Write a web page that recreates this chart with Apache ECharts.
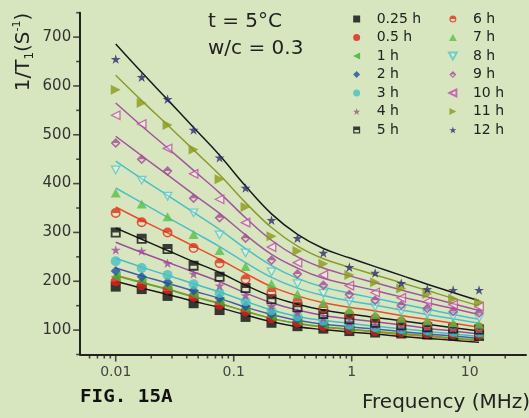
<!DOCTYPE html>
<html><head><meta charset="utf-8">
<script src="https://cdn.jsdelivr.net/npm/echarts@6/dist/echarts.min.js"></script>
<style>html,body{margin:0;padding:0;background:#d8e6bf}#c{width:529px;height:418px}</style>
</head><body><div id="c"></div>
<script>
// ---- data ----
const freqs = [0.01, 0.0166, 0.0275, 0.0457, 0.0759, 0.126, 0.209, 0.347, 0.575, 0.955, 1.58, 2.63, 4.37, 7.24, 12.0];
const seriesNames = ['0.25 h', '0.5 h', '1 h', '2 h', '3 h', '4 h', '5 h', '6 h', '7 h', '8 h', '9 h', '10 h', '11 h', '12 h'];

const pts_025h = [189, 184, 170, 155, 141, 127, 115, 108, 103, 98, 95, 93, 91, 89, 88];
const pts_05h  = [200, 192, 183, 168, 152, 138, 124, 115, 108, 102, 98, 95, 93, 91, 90];
const pts_1h   = [209, 201, 189, 173, 158, 143, 128, 119, 111, 105, 101, 97, 95, 93, 92];
const pts_2h   = [221, 209, 198, 181, 165, 149, 133, 122, 114, 107, 103, 99, 96, 94, 93];
const pts_3h   = [241, 227, 213, 194, 176, 159, 140, 128, 119, 111, 106, 102, 99, 96, 95];
const pts_4h   = [264, 262, 237, 215, 191, 171, 149, 136, 125, 116, 110, 105, 102, 100, 98];
const pts_5h   = [300, 287, 266, 232, 209, 186, 163, 147, 133, 122, 115, 110, 106, 103, 101];
const pts_6h   = [340, 321, 300, 268, 237, 204, 178, 158, 145, 132, 124, 117, 111, 107, 105];
const pts_7h   = [381, 358, 332, 296, 263, 230, 195, 174, 156, 142, 132, 124, 119, 115, 112];
const pts_8h   = [428, 407, 374, 340, 295, 258, 219, 195, 175, 158, 148, 139, 133, 128, 125];
const pts_9h   = [483, 450, 426, 370, 330, 288, 243, 215, 192, 173, 161, 151, 144, 138, 135];
const pts_10h  = [540, 522, 472, 420, 368, 320, 270, 238, 213, 191, 177, 166, 158, 152, 148];
const pts_11h  = [592, 565, 520, 470, 409, 352, 292, 262, 236, 213, 198, 185, 174, 164, 157];
const pts_12h  = [655, 618, 573, 510, 453, 391, 325, 288, 258, 229, 217, 196, 184, 182, 182];

const fit_025h = [200, 186, 173, 159, 146, 131, 117, 107, 101, 96, 92, 87, 83, 79, 75];
const fit_05h  = [213, 198, 184, 169, 155, 138, 124, 113, 106, 101, 96, 91, 87, 82, 78];
const fit_1h   = [211, 197, 183, 168, 154, 139, 124, 114, 107, 102, 97, 93, 89, 84, 80];
const fit_2h   = [227, 211, 196, 180, 165, 147, 132, 120, 112, 107, 102, 97, 92, 88, 83];
const fit_3h   = [247, 229, 212, 195, 178, 159, 141, 128, 120, 114, 108, 103, 97, 92, 87];
const fit_4h   = [280, 259, 239, 219, 199, 176, 156, 141, 130, 123, 117, 111, 104, 98, 92];
const fit_5h   = [309, 286, 263, 240, 218, 192, 169, 153, 141, 133, 126, 119, 112, 105, 98];
const fit_6h   = [352, 325, 299, 272, 245, 216, 189, 170, 156, 147, 139, 130, 122, 114, 106];
const fit_7h   = [391, 361, 331, 301, 271, 238, 208, 186, 171, 160, 151, 141, 132, 123, 114];
const fit_8h   = [446, 410, 376, 341, 306, 267, 232, 206, 188, 176, 165, 154, 143, 132, 122];
const fit_9h   = [497, 457, 418, 378, 339, 295, 255, 227, 206, 193, 181, 168, 156, 144, 132];
const fit_10h  = [565, 518, 473, 427, 381, 330, 284, 250, 227, 211, 197, 182, 168, 154, 140];
const fit_11h  = [622, 570, 520, 469, 418, 361, 310, 272, 246, 229, 213, 197, 181, 165, 150];
const fit_12h  = [686, 628, 572, 515, 458, 395, 338, 296, 267, 248, 230, 212, 194, 177, 160];

const xTickLabels = [0.01, 0.1, 1, 10];
const xMinorTicks = [0.006, 0.007, 0.008, 0.009, 0.02, 0.03, 0.04, 0.05, 0.06, 0.07, 0.08, 0.09,
  0.2, 0.3, 0.4, 0.5, 0.6, 0.7, 0.8, 0.9, 2, 3, 4, 5, 6, 7, 8, 9, 20];
const yTickLabels = [100, 200, 300, 400, 500, 600, 700];
const yMinorTicks = [50, 150, 250, 350, 450, 550, 650, 750];

const allPts = [pts_025h, pts_05h, pts_1h, pts_2h, pts_3h, pts_4h, pts_5h, pts_6h, pts_7h, pts_8h, pts_9h, pts_10h, pts_11h, pts_12h];
const allFits = [fit_025h, fit_05h, fit_1h, fit_2h, fit_3h, fit_4h, fit_5h, fit_6h, fit_7h, fit_8h, fit_9h, fit_10h, fit_11h, fit_12h];

// ---- styles ----
const SYM = {
  square: 'path://M0,0L10,0L10,10L0,10Z',
  circle: 'circle',
  diamond: 'path://M5,0L10,5L5,10L0,5Z',
  up: 'path://M5,0L10,9L0,9Z',
  left: 'path://M0,5L10,0L10,10Z',
  right: 'path://M10,5L0,0L0,10Z',
  down: 'path://M0,0L10,0L5,9Z',
  star: 'path://M50,2L61,36L97,36L68,57L79,92L50,71L21,92L32,57L3,36L39,36Z',
  halfSquare: 'path://M0,0L10,0L10,10L0,10Z M1.8,5L1.8,8.2L8.2,8.2L8.2,5Z',
  halfCircle: 'path://M5,0A5,5,0,1,1,5,10A5,5,0,1,1,5,0Z M1.6,5A3.4,3.4,0,0,0,8.4,5Z',
  halfDiamond: 'path://M5,0L10,5L5,10L0,5Z M2.2,5L5,7.8L7.8,5Z'
};
const symbols = ['square','circle','left','diamond','circle','star','halfSquare','halfCircle','up','down','halfDiamond','left','right','star'];
const fillMode = ['fill','fill','fill','fill','fill','fill','half','half','fill','open','half','open','fill','fill'];
const ptColors = ['#0d0d0d','#e0201c','#3fae2f','#1f4f9e','#48c0c0','#a04a9c','#111111','#e0301c','#58bf48','#55c6cc','#a44a96','#c04aa8','#8c9a1a','#2b2d6e'];
const lineColors = ['#1a1a1a','#e8771e','#55aa3c','#4d5aa8','#46bcc4','#9a4f98','#1a1a1a','#e4502a','#4cbfc4','#4cbfc4','#a0589c','#a0589c','#8d9a2a','#1a1a1a'];

const FONT = 'DejaVu Sans';
const X_MIN = 0.005, X_MAX = 30, Y_MIN = 50, Y_MAX = 750;

const series = [];
allFits.forEach((f, i) => {
  series.push({
    type: 'line', name: 'fit ' + seriesNames[i], silent: true, smooth: 0.4,
    showSymbol: false, symbol: 'none',
    data: freqs.map((x, k) => [x, f[k]]),
    lineStyle: { color: lineColors[i], width: 1.5 }, z: 2
  });
});
allPts.forEach((p, i) => {
  const mode = fillMode[i];
  const itemStyle = mode === 'open'
    ? { color: 'rgba(255,255,255,0.35)', borderColor: ptColors[i], borderWidth: 1.3 }
    : { color: ptColors[i], borderWidth: 0 };
  series.push({
    type: 'scatter', name: seriesNames[i], silent: true,
    symbol: SYM[symbols[i]], symbolSize: mode === 'open' ? 8.5 : 10, symbolKeepAspect: true,
    data: freqs.map((x, k) => [x, p[k]]),
    itemStyle, z: 3
  });
});
// axis ticks drawn through the scales
const tickStyle = { color: '#222' };
series.push({ type: 'scatter', silent: true, clip: false, symbol: 'rect', symbolSize: [1.6, 7], symbolOffset: [0, 3.5],
  data: xTickLabels.map(v => [v, Y_MIN]), itemStyle: tickStyle, z: 4 });
series.push({ type: 'scatter', silent: true, clip: false, symbol: 'rect', symbolSize: [1.6, 4], symbolOffset: [0, 2],
  data: xMinorTicks.map(v => [v, Y_MIN]), itemStyle: tickStyle, z: 4 });
series.push({ type: 'scatter', silent: true, clip: false, symbol: 'rect', symbolSize: [7, 1.6], symbolOffset: [-3.5, 0],
  data: yTickLabels.map(v => [X_MIN, v]), itemStyle: tickStyle, z: 4 });
series.push({ type: 'scatter', silent: true, clip: false, symbol: 'rect', symbolSize: [4, 1.6], symbolOffset: [-2, 0],
  data: yMinorTicks.map(v => [X_MIN, v]), itemStyle: tickStyle, z: 4 });

const legendBase = {
  orient: 'vertical', itemWidth: 30, itemHeight: 7, itemGap: 4.5, symbolKeepAspect: true, padding: 0,
  textStyle: { fontFamily: FONT, fontSize: 14, color: '#222', lineHeight: 14 },
  selectedMode: false
};

const chart = echarts.init(document.getElementById('c'), null, { renderer: 'canvas' });
chart.setOption({
  backgroundColor: '#d8e6bf',
  animation: false,
  grid: { left: 80.2, top: 12.7, width: 449.6, height: 341.8, containLabel: false },
  xAxis: {
    type: 'log', logBase: 10, min: X_MIN, max: X_MAX,
    axisLine: { lineStyle: { color: '#222', width: 2 } },
    axisTick: { show: false }, splitLine: { show: false }, minorTick: { show: false },
    axisLabel: {
      margin: 11, fontFamily: FONT, fontSize: 14, color: '#444',
      showMinLabel: true, showMaxLabel: true,
      formatter: v => {
        const l = Math.log10(v);
        if (Math.abs(l - Math.round(l)) < 1e-6 && v > 0.009 && v < 11) return String(Number(v.toPrecision(3)));
        return '';
      }
    }
  },
  yAxis: {
    type: 'value', min: Y_MIN, max: Y_MAX, interval: 50,
    axisLine: { show: true, lineStyle: { color: '#222', width: 2 } },
    axisTick: { show: false }, splitLine: { show: false },
    axisLabel: { margin: 9, fontFamily: FONT, fontSize: 15, color: '#333',
      formatter: v => (v % 100 === 0 ? String(v) : '') }
  },
  legend: [
    Object.assign({}, legendBase, { left: 353, top: 12, data: seriesNames.slice(0, 7) }),
    Object.assign({}, legendBase, { left: 448, top: 12, data: seriesNames.slice(7) })
  ],
  graphic: [
    { type: 'text', x: 208, y: 22, style: { text: 't = 5°C', font: '20px "DejaVu Sans"', fill: '#222', textAlign: 'left', textVerticalAlign: 'middle' } },
    { type: 'text', x: 208, y: 49, style: { text: 'w/c = 0.3', font: '20px "DejaVu Sans"', fill: '#222', textAlign: 'left', textVerticalAlign: 'middle' } },
    { type: 'text', x: 80, y: 398, scaleX: 1.13, style: { text: 'FIG. 15A', font: 'bold 17px "DejaVu Sans Mono"', fill: '#111', textAlign: 'left', textVerticalAlign: 'middle' } },
    { type: 'text', x: 362, y: 403, style: { text: 'Frequency (MHz)', font: '20px "DejaVu Sans"', fill: '#222', textAlign: 'left', textVerticalAlign: 'middle' } },
    { type: 'text', x: 24, y: 52, rotation: Math.PI / 2,
      style: {
        text: '{a|1/T}{b|1}{a|(S}{c|-1}{a|)}',
        textAlign: 'center', textVerticalAlign: 'middle', fill: '#222',
        rich: {
          a: { fontFamily: FONT, fontSize: 20, lineHeight: 24, fill: '#222', color: '#222' },
          b: { fontFamily: FONT, fontSize: 12, lineHeight: 13, verticalAlign: 'bottom', fill: '#222', color: '#222' },
          c: { fontFamily: FONT, fontSize: 11, lineHeight: 14, verticalAlign: 'top', fill: '#222', color: '#222' }
        }
      } }
  ],
  series
});
</script>
</body></html>
